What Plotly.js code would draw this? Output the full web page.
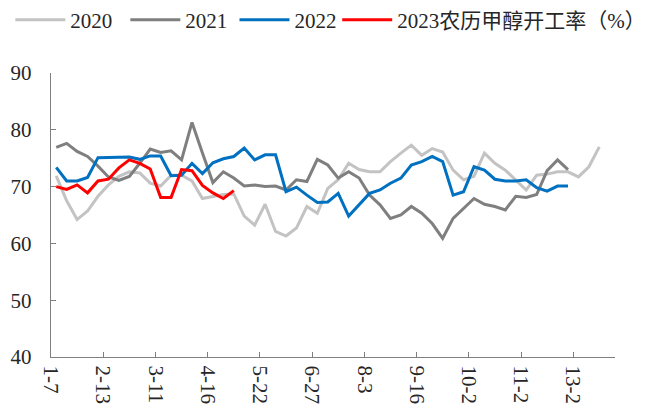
<!DOCTYPE html>
<html>
<head>
<meta charset="utf-8">
<script src="https://cdn.plot.ly/plotly-3.0.1.min.js"></script>
<style>html,body{margin:0;padding:0;background:#fff;}#chart{width:646px;height:412px;}</style>
</head>
<body>
<div id="chart"></div>
<script>
const seriesNames = ["2020", "2021", "2022", "2023农历甲醇开工率（%）"];
const seriesColors = ["#C3C3C3", "#7F7F7F", "#0070C0", "#FF0000"];

const tickLabels = ["1-7", "2-13", "3-11", "4-16", "5-22", "6-27", "8-3", "9-16", "10-2", "11-2", "13-2"];
const tickPositions = [-0.5, 4.5, 9.5, 14.5, 19.5, 24.5, 29.5, 34.5, 39.5, 44.5, 49.5];

const values2020 = [71.9, 67.5, 64.2, 65.7, 68.3, 70.3, 71.8, 72.6, 72.4, 70.6,
  70.1, 72.0, 72.0, 71.0, 67.9, 68.2, 68.6, 68.7, 64.8, 63.2,
  66.9, 62.1, 61.3, 62.7, 66.5, 65.3, 69.7, 71.2, 74.1, 73.0,
  72.6, 72.6, 74.4, 75.9, 77.3, 75.5, 76.7, 76.1, 72.9, 71.2,
  71.8, 75.9, 74.1, 72.9, 71.2, 69.4, 72.0, 72.2, 72.6, 72.6,
  71.7, 73.5, 77.0];
const values2021 = [76.9, 77.6, 76.2, 75.3, 73.6, 71.7, 71.1, 71.8, 74.1, 76.6,
  76.0, 76.3, 74.7, 81.3, 75.9, 70.7, 72.6, 71.5, 70.1, 70.3,
  70.0, 70.1, 69.4, 71.2, 70.9, 74.8, 73.8, 71.5, 72.6, 71.5,
  68.5, 66.8, 64.4, 65.0, 66.5, 65.3, 63.5, 60.9, 64.4, 66.2,
  67.9, 66.9, 66.5, 65.9, 68.3, 68.1, 68.6, 72.8, 74.7, 73.0];
const values2022 = [73.4, 71.0, 71.0, 71.6, 75.1, 75.1, 75.2, 75.2, 74.8, 75.4,
  75.4, 71.9, 72.0, 74.1, 72.3, 74.2, 74.9, 75.3, 76.8, 74.7,
  75.6, 75.6, 69.1, 69.9, 68.5, 67.2, 67.3, 68.8, 64.8, 66.8,
  68.8, 69.4, 70.6, 71.5, 73.8, 74.4, 75.3, 74.4, 68.5, 69.1,
  73.5, 72.9, 71.3, 71.0, 71.0, 71.2, 69.8, 69.2, 70.1, 70.1];
const values2023 = [70.0, 69.5, 70.3, 68.9, 71.0, 71.3, 73.3, 74.7, 74.1, 73.1,
  68.1, 68.1, 73.0, 72.8, 70.2, 68.9, 67.9, 69.3];

const allValues = [values2020, values2021, values2022, values2023];
const legendIds = ["legend", "legend2", "legend3", "legend4"];
const legendX = [0.016, 0.194, 0.363, 0.522];

const traces = allValues.map((vals, k) => ({
  type: "scatter",
  mode: "lines",
  name: seriesNames[k],
  legend: legendIds[k],
  x: vals.map((_, i) => i),
  y: vals,
  line: {color: seriesColors[k], width: 3}
}));

const fontFamily = "'Liberation Serif', 'Times New Roman', 'Noto Sans CJK SC', serif";
const legendFont = {family: fontFamily, size: 21, color: "#262626"};

const layout = {
  width: 646,
  height: 412,
  margin: {l: 51, r: 31, t: 73, b: 55, autoexpand: false},
  paper_bgcolor: "#ffffff",
  plot_bgcolor: "#ffffff",
  showlegend: true,
  xaxis: {
    range: [-0.5, 53.5],
    tickmode: "array",
    tickvals: tickPositions,
    ticktext: tickLabels,
    tickangle: 90,
    ticks: "inside",
    ticklen: 5,
    tickcolor: "#7F7F7F",
    showline: true,
    linecolor: "#7F7F7F",
    linewidth: 1.3,
    showgrid: false,
    zeroline: false,
    ticklabelstandoff: 3,
    tickfont: {family: fontFamily, size: 21, color: "#262626"}
  },
  yaxis: {
    range: [40, 90],
    tickmode: "linear",
    tick0: 40,
    dtick: 10,
    ticks: "inside",
    ticklen: 5,
    tickcolor: "#7F7F7F",
    showline: true,
    linecolor: "#7F7F7F",
    linewidth: 1.3,
    showgrid: false,
    zeroline: false,
    ticklabelstandoff: 14,
    tickfont: {family: fontFamily, size: 21, color: "#262626"}
  }
};

legendIds.forEach((id, k) => {
  layout[id] = {
    orientation: "h",
    xref: "container", yref: "container",
    x: legendX[k], xanchor: "left",
    y: 0.951, yanchor: "middle",
    font: legendFont,
    itemwidth: 50,
    bgcolor: "rgba(0,0,0,0)"
  };
});

Plotly.newPlot("chart", traces, layout, {staticPlot: true, displayModeBar: false});
</script>
</body>
</html>
